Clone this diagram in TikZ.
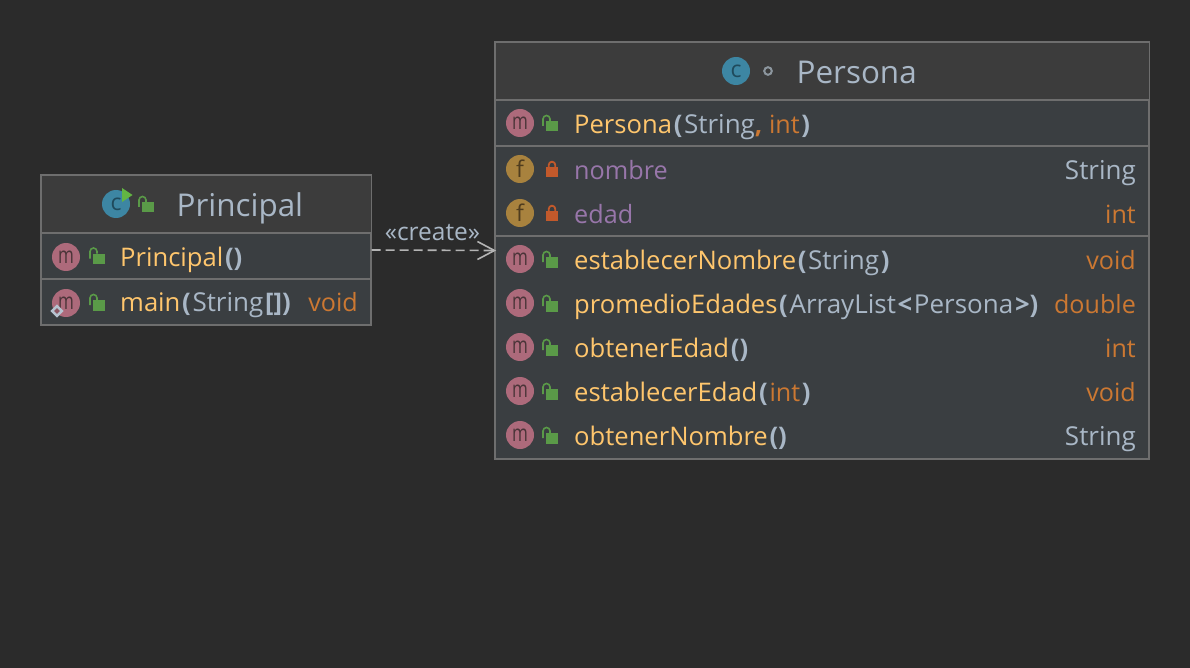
\documentclass[tikz,border=0pt]{standalone}
\usepackage{fontspec}
\setmainfont{Open Sans}
\definecolor{bgc}{HTML}{2B2B2B}
\definecolor{headc}{HTML}{3C3C3C}
\definecolor{rowc}{HTML}{3A3E41}
\definecolor{linec}{HTML}{6E6E6E}
\definecolor{txt}{HTML}{A9B7C6}
\definecolor{yel}{HTML}{FFC66D}
\definecolor{kw}{HTML}{CC7832}
\definecolor{pur}{HTML}{9876AA}
\definecolor{micon}{HTML}{AD6A7B}
\definecolor{ficon}{HTML}{A8823E}
\definecolor{cicon}{HTML}{3D86A3}
\definecolor{glock}{HTML}{5A9A48}
\definecolor{rlock}{HTML}{C2592B}
\definecolor{icontxt}{HTML}{4A3438}
\definecolor{cicontxt}{HTML}{1F4A5C}
\definecolor{ficontxt}{HTML}{4F3C1E}
\definecolor{conn}{HTML}{B4B4B4}
\definecolor{playc}{HTML}{62B543}
\definecolor{dotc}{HTML}{8C969E}
\newcommand{\myPn}[1]{\kern1.7pt\textcolor{txt}{\textbf{#1}}\kern1.7pt}
\newcommand{\myTx}[1]{\textcolor{txt}{\fontsize{26}{26}\selectfont #1}}
\newcommand{\myKw}[1]{\textcolor{kw}{\fontsize{25.1}{26}\selectfont #1}}
\newcommand{\myKb}[1]{\textcolor{kw}{\textbf{#1}}}
\newcommand{\myYl}[1]{\textcolor{yel}{#1}}
\newcommand{\myPu}[1]{\textcolor{pur}{\fontsize{25.2}{26}\selectfont #1}}
\newcommand{\mglyph}{\scalebox{0.74}[1]{m}}
\newcommand{\badge}[5]{%
  \node[badgeshape,fill=#2] (#1) at (#4,#5) {\textcolor{icontxt}{#3}};}
\newcommand{\openlock}[3]{%
  \fill[glock] (#2+-4,#3+-3) rectangle (#2+8,#3+7.5);
  \draw[glock,line width=1.6pt] (#2+-7,#3+2) -- (#2+-7,#3+-5) arc[start angle=180,end angle=360,radius=3.5] -- (#2+0,#3+-3);
  \coordinate (#1) at (#2,#3);}
\newcommand{\closedlock}[3]{%
  \fill[rlock] (#2+-6,#3+-3) rectangle (#2+6,#3+7.5);
  \draw[rlock,line width=1.8pt] (#2+-3.3,#3+-2) -- (#2+-3.3,#3+-5) arc[start angle=180,end angle=360,radius=3.3] -- (#2+3.3,#3+-2);
  \coordinate (#1) at (#2,#3);}
\tikzset{
  x=1pt,y=-1pt,
  box/.style={draw=linec,line width=1.2pt,fill=rowc,inner sep=0pt},
  divider/.style={draw=linec,line width=1.8pt},
  badgeshape/.style={circle,minimum size=28pt,inner sep=0pt,font=\fontsize{23}{23}\selectfont},
  title/.style={anchor=base west,inner sep=0pt,text=txt,font=\fontsize{31.4}{32}\selectfont},
  member/.style={anchor=base west,inner sep=0pt,font=\fontsize{25.6}{26}\selectfont},
  typ/.style={anchor=base east,inner sep=0pt,font=\fontsize{25.8}{26}\selectfont},
  conntext/.style={anchor=base,inner sep=0pt,text=txt,font=\fontsize{24.5}{25}\selectfont},
  connector/.style={draw=conn,line width=1.6pt,dash pattern=on 9pt off 5pt},
  connhead/.style={draw=conn,line width=1.6pt},
}
\begin{document}
\begin{tikzpicture}
\useasboundingbox (0,0) rectangle (1190,668);
\fill[bgc] (0,0) rectangle (1190,668);
% boxes
\node[box,minimum width=330pt,minimum height=150pt] (principal) at (206,250) {};
\node[box,minimum width=654pt,minimum height=417pt] (persona) at (822,250.5) {};
\fill[headc] (41.5,176) rectangle (370.5,233);
\fill[headc] (495.5,43) rectangle (1148.5,100);
\draw[divider] (41,233) -- (371,233);
\draw[divider] (41,279) -- (371,279);
\draw[divider] (495,100) -- (1149,100);
\draw[divider] (495,146) -- (1149,146);
\draw[divider] (495,236) -- (1149,236);
\draw[linec,line width=1.2pt] (principal.north west) rectangle (principal.south east);
\draw[linec,line width=1.2pt] (persona.north west) rectangle (persona.south east);
% Principal header
\badge{pc}{cicon}{\textcolor{cicontxt}{c}}{116}{204}
\fill[playc] (122,188) -- (132.5,195) -- (122,202) -- cycle;
\openlock{plk}{146}{205}
\node[title] (ptitle) at (176.5,216.5) {Principal};
% Principal rows
\badge{pm1}{micon}{\mglyph}{66}{257}
\openlock{pl1}{97}{256.5}
\node[member] (ptxt1) at (120,266.5) {\myYl{Principal}\myPn{()}};
\badge{pm2}{micon}{\mglyph}{66}{303}
\openlock{pl2}{97}{303}
\node[member] (ptxt2) at (120,311.5) {\myYl{main}\myPn{(}\myTx{String}\myPn{[])}};
\node[typ] (ptyp2) at (358,311.5) {\myKw{void}};
\fill[txt!85!white,rotate around={45:(57,311)}] (52.3,306.3) rectangle (61.7,315.7);
\fill[micon!80!black,rotate around={45:(57,311)}] (55,309) rectangle (59,313);
% Persona header
\badge{qc}{cicon}{\textcolor{cicontxt}{c}}{736}{71}
\draw[dotc,line width=2pt] (768,71) circle[radius=3.8];
\node[title] (qtitle) at (796.5,83.5) {Persona};
% Persona rows
\badge{qm1}{micon}{\mglyph}{520}{123}
\openlock{ql1}{550}{124}
\node[member] (qtxt1) at (574,133.5) {\myYl{Persona}\myPn{(}\myTx{String}\myKb{,} \myKw{int}\myPn{)}};
\badge{qf1}{ficon}{\textcolor{ficontxt}{f}}{520}{169}
\closedlock{ql2}{552}{170}
\node[member] (qtxt2) at (574,179.5) {\myPu{nombre}};
\node[typ] (qtyp2) at (1136,179.5) {\myTx{String}};
\badge{qf2}{ficon}{\textcolor{ficontxt}{f}}{520}{213}
\closedlock{ql3}{552}{214}
\node[member] (qtxt3) at (574,223.5) {\myPu{edad}};
\node[typ] (qtyp3) at (1136,223.5) {\myKw{int}};
\badge{qm2}{micon}{\mglyph}{520}{259}
\openlock{ql4}{550}{260}
\node[member] (qtxt4) at (574,269.5) {\myYl{establecerNombre}\myPn{(}\myTx{String}\myPn{)}};
\node[typ] (qtyp4) at (1136,269.5) {\myKw{void}};
\badge{qm3}{micon}{\mglyph}{520}{303}
\openlock{ql5}{550}{304}
\node[member] (qtxt5) at (574,313.5) {\myYl{promedioEdades}\myPn{(}\myTx{ArrayList}\myPn{<}\myTx{Persona}\myPn{>)}};
\node[typ] (qtyp5) at (1136,313.5) {\myKw{double}};
\badge{qm4}{micon}{\mglyph}{520}{347}
\openlock{ql6}{550}{348}
\node[member] (qtxt6) at (574,357.5) {\myYl{obtenerEdad}\myPn{()}};
\node[typ] (qtyp6) at (1136,357.5) {\myKw{int}};
\badge{qm5}{micon}{\mglyph}{520}{391}
\openlock{ql7}{550}{392}
\node[member] (qtxt7) at (574,401.5) {\myYl{establecerEdad}\myPn{(}\myKw{int}\myPn{)}};
\node[typ] (qtyp7) at (1136,401.5) {\myKw{void}};
\badge{qm6}{micon}{\mglyph}{520}{435}
\openlock{ql8}{550}{436}
\node[member] (qtxt8) at (574,445.5) {\myYl{obtenerNombre}\myPn{()}};
\node[typ] (qtyp8) at (1136,445.5) {\myTx{String}};
% connector
\path[connector] (principal.east) -- (persona.west);
\draw[connhead] ([shift={(-17,-9)}]persona.west) -- (persona.west) -- ([shift={(-17,9)}]persona.west);
\node[conntext] (clabel) at (432.5,240.7) {«create»};
\end{tikzpicture}
\end{document}
